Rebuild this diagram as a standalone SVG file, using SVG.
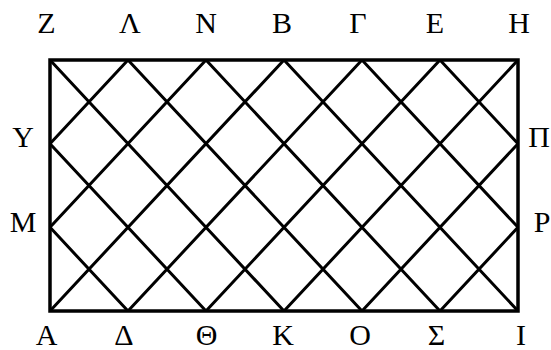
<svg xmlns="http://www.w3.org/2000/svg" width="551" height="350" viewBox="0 0 551 350">
<style>
.lbl{font-family:"Liberation Serif","Times New Roman",serif;font-size:30px;fill:#000;text-anchor:middle}
.diag{stroke:#000;stroke-width:3;fill:none;stroke-linecap:butt}
.frame{stroke:#000;stroke-width:3.5;fill:none}
</style>
<rect width="551" height="350" fill="#fff"/>
<g id="lines">
<path class="diag" d="M50,227.33L128,311M50,143.67L206,311M50,60L284,311M128,60L362,311M206,60L440,311M284,60L518,311M362,60L518,227.33M440,60L518,143.67"/>
<path class="diag" d="M128,60L50,143.67M206,60L50,227.33M284,60L50,311M362,60L128,311M440,60L206,311M518,60L284,311M518,143.67L362,311M518,227.33L440,311"/>
<rect class="frame" x="50" y="60" width="468" height="251"/>
</g>
<g id="labels-top">
<text class="lbl" x="46.5" y="33">Z</text>
<text class="lbl" x="130" y="33">Λ</text>
<text class="lbl" x="206" y="33">N</text>
<text class="lbl" x="282" y="33">B</text>
<text class="lbl" x="358" y="33">Γ</text>
<text class="lbl" x="435" y="33">E</text>
<text class="lbl" x="519" y="33">H</text>
</g>
<g id="labels-bottom">
<text class="lbl" x="46.5" y="345">A</text>
<text class="lbl" x="124" y="345">Δ</text>
<text class="lbl" x="206.5" y="345">Θ</text>
<text class="lbl" x="283" y="345">K</text>
<text class="lbl" x="360" y="345">O</text>
<text class="lbl" x="436.5" y="345">Σ</text>
<text class="lbl" x="521" y="345">I</text>
</g>
<g id="labels-side">
<text class="lbl" x="23" y="147">Υ</text>
<text class="lbl" x="23" y="231.5">M</text>
<text class="lbl" x="539" y="147">Π</text>
<text class="lbl" x="542" y="231.5">P</text>
</g>
</svg>
